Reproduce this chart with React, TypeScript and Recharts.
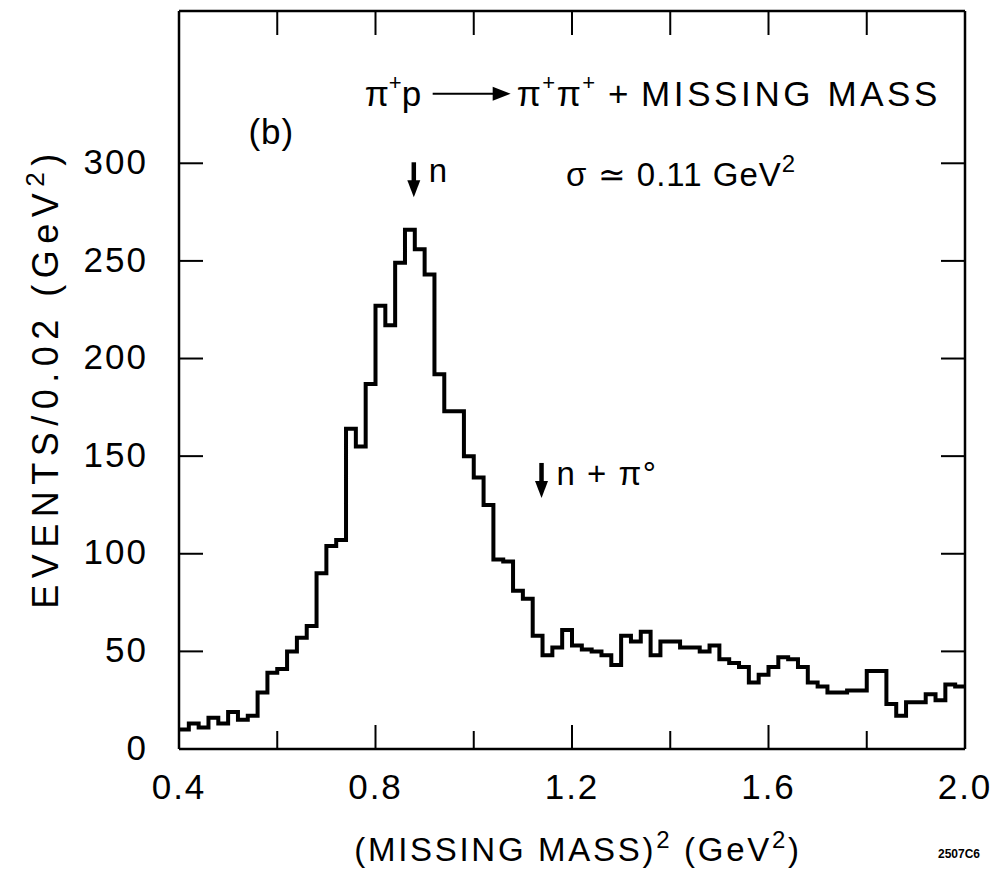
import React from 'react';
import { ComposedChart, Line, XAxis, YAxis, ReferenceDot } from 'recharts';

// lower edge of each 0.02 GeV^2 bin, plus the closing edge at 2.00
const binEdges = [
  0.40, 0.42, 0.44, 0.46, 0.48, 0.50, 0.52, 0.54, 0.56, 0.58,
  0.60, 0.62, 0.64, 0.66, 0.68, 0.70, 0.72, 0.74, 0.76, 0.78,
  0.80, 0.82, 0.84, 0.86, 0.88, 0.90, 0.92, 0.94, 0.96, 0.98,
  1.00, 1.02, 1.04, 1.06, 1.08, 1.10, 1.12, 1.14, 1.16, 1.18,
  1.20, 1.22, 1.24, 1.26, 1.28, 1.30, 1.32, 1.34, 1.36, 1.38,
  1.40, 1.42, 1.44, 1.46, 1.48, 1.50, 1.52, 1.54, 1.56, 1.58,
  1.60, 1.62, 1.64, 1.66, 1.68, 1.70, 1.72, 1.74, 1.76, 1.78,
  1.80, 1.82, 1.84, 1.86, 1.88, 1.90, 1.92, 1.94, 1.96, 1.98,
  2.00,
];

// events per bin
const events = [
  10, 13, 11, 16, 13, 19, 15, 17, 29, 39,
  41, 50, 57, 63, 90, 104, 107, 164, 155, 187,
  227, 217, 249, 266, 256, 243, 192, 173, 173, 150,
  139, 125, 97, 96, 81, 77, 58, 48, 52, 61,
  53, 51, 50, 48, 43, 58, 55, 60, 48, 55,
  55, 52, 52, 50, 53, 46, 44, 42, 34, 38,
  42, 47, 46, 42, 34, 32, 29, 29, 30, 30,
  40, 40, 23, 17, 24, 24, 28, 25, 33, 32,
];

const xTicks = [0.4, 0.6, 0.8, 1.0, 1.2, 1.4, 1.6, 1.8, 2.0];
const xTickText = ['0.4', '', '0.8', '', '1.2', '', '1.6', '', '2.0'];
const yTicks = [0, 50, 100, 150, 200, 250, 300];
const yTickText = ['0', '50', '100', '150', '200', '250', '300'];

// threshold markers
const neutronM2 = 0.88;
const neutronPionM2 = 1.14;

const rows = binEdges.map((m2, i) => ({ m2, n: events[Math.min(i, events.length - 1)] }));

const FONT = '"Liberation Sans", Arial, sans-serif';
const INK = '#000';

const BottomTick = (props: any) => {
  const { x, y, index } = props;
  const text = xTickText[index];
  const inner = index > 0 && index < xTicks.length - 1;
  return (
    <g>
      {inner && <line x1={x} x2={x} y1={y} y2={y - (text ? 24 : 18)} stroke={INK} strokeWidth={2} />}
      <text x={x} y={y + 50} textAnchor="middle" fontFamily={FONT} fontSize={35} letterSpacing={2} fill={INK}>
        {text}
      </text>
    </g>
  );
};

const TopTick = (props: any) => {
  const { x, y, index } = props;
  if (index === 0 || index === xTicks.length - 1) return null;
  return <line x1={x} x2={x} y1={y} y2={y + 24} stroke={INK} strokeWidth={2} />;
};

const LeftTick = (props: any) => {
  const { x, y, index } = props;
  return (
    <g>
      {index > 0 && <line x1={x} x2={x + 24} y1={y} y2={y} stroke={INK} strokeWidth={2} />}
      <text x={x - 31} y={y - 2} dy="0.36em" textAnchor="end" fontFamily={FONT} fontSize={35} letterSpacing={2} fill={INK}>
        {yTickText[index]}
      </text>
    </g>
  );
};

const RightTick = (props: any) => {
  const { x, y, index } = props;
  if (index === 0) return null;
  return <line x1={x} x2={x - 24} y1={y} y2={y} stroke={INK} strokeWidth={2} />;
};

const XTitle = (props: any) => {
  const { viewBox } = props;
  const cx = viewBox.x + viewBox.width / 2;
  return (
    <text x={cx + 6} y={viewBox.y + 112} textAnchor="middle" fontFamily={FONT} fontSize={33} letterSpacing={2.7} fill={INK}>
      (MISSING MASS)<tspan dy={-13} fontSize={24}>2</tspan>
      <tspan dy={13}> (GeV</tspan>
      <tspan dy={-13} fontSize={24}>2</tspan>
      <tspan dy={13}>)</tspan>
    </text>
  );
};

const YTitle = () => {
  const cx = 45;
  const cy = 378;
  return (
    <text
      x={cx}
      y={cy}
      dy="0.36em"
      textAnchor="middle"
      transform={`rotate(-90 ${cx} ${cy})`}
      fontFamily={FONT}
      fontSize={36}
      letterSpacing={6.5}
      fill={INK}
    >
      EVENTS/0.02 (GeV<tspan dy={-14} fontSize={26}>2</tspan>
      <tspan dy={14}>)</tspan>
    </text>
  );
};

const DownArrow = ({ x, y }: { x: number; y: number }) => (
  <g>
    <line x1={x} x2={x} y1={y} y2={y + 20} stroke={INK} strokeWidth={4.5} />
    <polygon points={`${x - 6.5},${y + 18} ${x + 6.5},${y + 18} ${x},${y + 35}`} fill={INK} />
  </g>
);

const NeutronNote = (props: any) => {
  const { x, y } = props.viewBox;
  return (
    <g>
      <DownArrow x={x} y={y} />
      <text x={x + 15} y={y + 20} fontFamily={FONT} fontSize={33} fill={INK}>n</text>
    </g>
  );
};

const NeutronPionNote = (props: any) => {
  const { x, y } = props.viewBox;
  return (
    <g>
      <DownArrow x={x} y={y} />
      <text x={x + 15} y={y + 22} fontFamily={FONT} fontSize={33} letterSpacing={1.5} fill={INK}>
        n + π°
      </text>
    </g>
  );
};

const ReactionNote = (props: any) => {
  const { x, y } = props.viewBox;
  return (
    <g fontFamily={FONT} fill={INK}>
      <text x={x} y={y} fontSize={35}>
        π<tspan dy={-16} fontSize={22}>+</tspan>
        <tspan dy={16}>p</tspan>
      </text>
      <line x1={x + 68} x2={x + 132} y1={y - 12} y2={y - 12} stroke={INK} strokeWidth={2} />
      <polygon points={`${x + 128},${y - 19} ${x + 146},${y - 12} ${x + 128},${y - 5}`} fill={INK} />
      <text x={x + 152} y={y} fontSize={35} letterSpacing={1.5}>
        π<tspan dy={-16} fontSize={22}>+</tspan>
        <tspan dy={16}>π</tspan>
        <tspan dy={-16} fontSize={22}>+</tspan>
        <tspan dy={16}> + </tspan>
        <tspan letterSpacing={3.6}>MISSING  MASS</tspan>
      </text>
    </g>
  );
};

const PanelNote = (props: any) => {
  const { x, y } = props.viewBox;
  return (
    <text x={x} y={y} dy="0.36em" textAnchor="middle" fontFamily={FONT} fontSize={35} letterSpacing={1} fill={INK}>
      (b)
    </text>
  );
};

const WidthNote = (props: any) => {
  const { x, y } = props.viewBox;
  return (
    <text x={x} y={y} dy="0.36em" fontFamily={FONT} fontSize={33} letterSpacing={1} fill={INK}>
      σ ≃ 0.11 GeV<tspan dy={-14} fontSize={24}>2</tspan>
    </text>
  );
};

const hidden = { r: 1, fill: 'none', stroke: 'none' };

export default function App() {
  return (
    <div style={{ position: 'absolute', left: 0, top: 0, width: 993, height: 876, background: '#fff' }}>
      <ComposedChart width={993} height={876} data={rows} margin={{ top: 10, right: 27, bottom: 126, left: 178 }}>
        <XAxis
          xAxisId="b"
          dataKey="m2"
          type="number"
          domain={[0.4, 2.0]}
          ticks={xTicks}
          interval={0}
          height={1}
          tickSize={0}
          tickMargin={0}
          tickLine={false}
          tick={<BottomTick />}
          axisLine={{ stroke: INK, strokeWidth: 2.5 }}
          label={{ content: <XTitle /> }}
        />
        <XAxis
          xAxisId="t"
          orientation="top"
          dataKey="m2"
          type="number"
          domain={[0.4, 2.0]}
          ticks={xTicks}
          interval={0}
          height={1}
          tickSize={0}
          tickMargin={0}
          tickLine={false}
          tick={<TopTick />}
          axisLine={{ stroke: INK, strokeWidth: 2.5 }}
        />
        <YAxis
          yAxisId="l"
          type="number"
          domain={[0, 378]}
          allowDataOverflow
          ticks={yTicks}
          interval={0}
          width={1}
          tickSize={0}
          tickMargin={0}
          tickLine={false}
          tick={<LeftTick />}
          axisLine={{ stroke: INK, strokeWidth: 2.5 }}
          label={{ content: <YTitle /> }}
        />
        <YAxis
          yAxisId="r"
          orientation="right"
          type="number"
          domain={[0, 378]}
          allowDataOverflow
          ticks={yTicks}
          interval={0}
          width={1}
          tickSize={0}
          tickMargin={0}
          tickLine={false}
          tick={<RightTick />}
          axisLine={{ stroke: INK, strokeWidth: 2.5 }}
        />
        <Line
          xAxisId="b"
          yAxisId="l"
          type="stepAfter"
          dataKey="n"
          stroke={INK}
          strokeWidth={4}
          strokeLinejoin="miter"
          dot={false}
          activeDot={false}
          isAnimationActive={false}
        />
        <ReferenceDot xAxisId="b" yAxisId="l" x={neutronM2} y={300} {...hidden} label={{ content: <NeutronNote /> }} />
        <ReferenceDot xAxisId="b" yAxisId="l" x={neutronPionM2} y={146} {...hidden} label={{ content: <NeutronPionNote /> }} />
        <ReferenceDot xAxisId="b" yAxisId="l" x={0.78} y={329} {...hidden} label={{ content: <ReactionNote /> }} />
        <ReferenceDot xAxisId="b" yAxisId="l" x={0.59} y={316} {...hidden} label={{ content: <PanelNote /> }} />
        <ReferenceDot xAxisId="b" yAxisId="l" x={1.19} y={294} {...hidden} label={{ content: <WidthNote /> }} />
      </ComposedChart>
      <div
        style={{
          position: 'absolute',
          left: 938,
          top: 847,
          fontFamily: FONT,
          fontWeight: 700,
          fontSize: 12,
          color: INK,
        }}
      >
        2507C6
      </div>
    </div>
  );
}
